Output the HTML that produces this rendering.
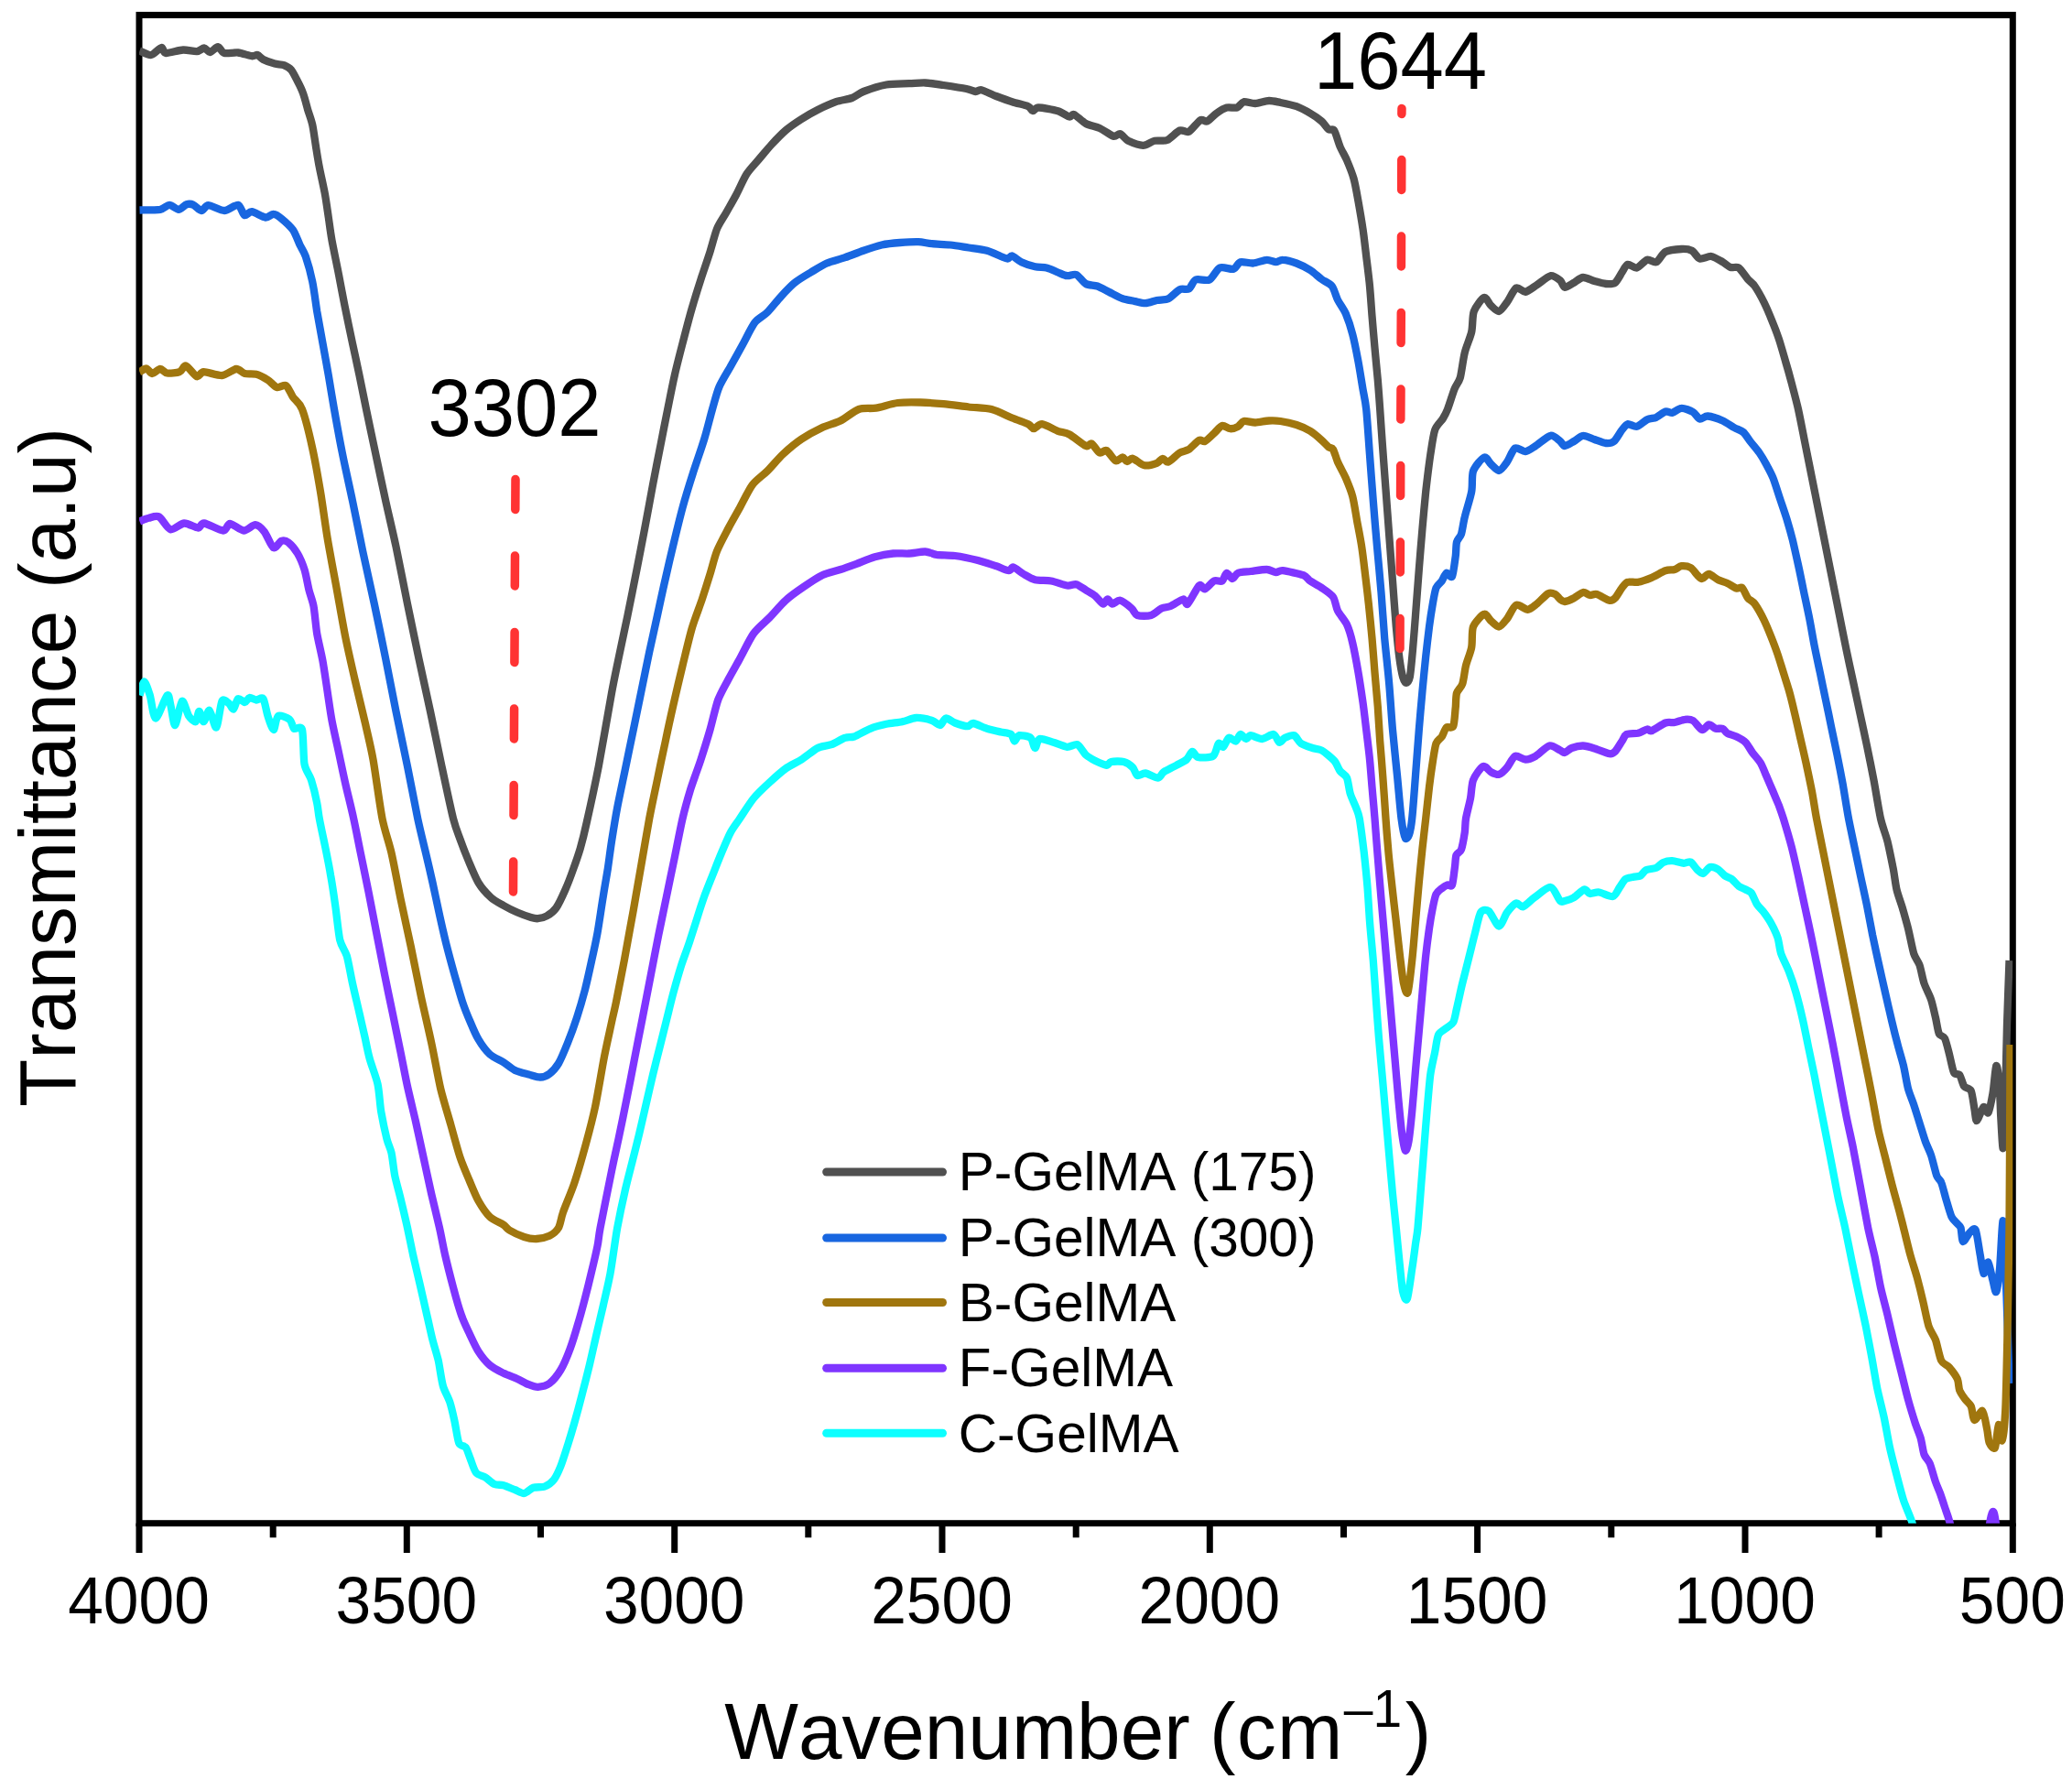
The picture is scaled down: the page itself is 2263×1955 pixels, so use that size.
<!DOCTYPE html>
<html><head><meta charset="utf-8"><title>FTIR</title>
<style>html,body{margin:0;padding:0;background:#fff}svg{display:block}text{font-family:"Liberation Sans",Arial,sans-serif;fill:#000;font-kerning:none}</style></head><body>
<svg width="2263" height="1955" viewBox="0 0 2263 1955">
<rect width="2263" height="1955" fill="#fff"/>
<defs><clipPath id="c"><rect x="152.0" y="16.4" width="2046.3" height="1647.3"/></clipPath></defs>
<rect x="152.0" y="16.4" width="2046.3" height="1647.3" fill="none" stroke="#000" stroke-width="7"/>
<line x1="152.0" y1="1663.7" x2="152.0" y2="1696.0" stroke="#000" stroke-width="7"/>
<line x1="298.2" y1="1663.7" x2="298.2" y2="1679.3" stroke="#000" stroke-width="7"/>
<line x1="444.3" y1="1663.7" x2="444.3" y2="1696.0" stroke="#000" stroke-width="7"/>
<line x1="590.5" y1="1663.7" x2="590.5" y2="1679.3" stroke="#000" stroke-width="7"/>
<line x1="736.7" y1="1663.7" x2="736.7" y2="1696.0" stroke="#000" stroke-width="7"/>
<line x1="882.8" y1="1663.7" x2="882.8" y2="1679.3" stroke="#000" stroke-width="7"/>
<line x1="1029.0" y1="1663.7" x2="1029.0" y2="1696.0" stroke="#000" stroke-width="7"/>
<line x1="1175.2" y1="1663.7" x2="1175.2" y2="1679.3" stroke="#000" stroke-width="7"/>
<line x1="1321.3" y1="1663.7" x2="1321.3" y2="1696.0" stroke="#000" stroke-width="7"/>
<line x1="1467.5" y1="1663.7" x2="1467.5" y2="1679.3" stroke="#000" stroke-width="7"/>
<line x1="1613.6" y1="1663.7" x2="1613.6" y2="1696.0" stroke="#000" stroke-width="7"/>
<line x1="1759.8" y1="1663.7" x2="1759.8" y2="1679.3" stroke="#000" stroke-width="7"/>
<line x1="1906.0" y1="1663.7" x2="1906.0" y2="1696.0" stroke="#000" stroke-width="7"/>
<line x1="2052.1" y1="1663.7" x2="2052.1" y2="1679.3" stroke="#000" stroke-width="7"/>
<line x1="2198.3" y1="1663.7" x2="2198.3" y2="1696.0" stroke="#000" stroke-width="7"/>
<text transform="translate(151.5,1773.0) scale(1,1.042)" font-size="69.5" text-anchor="middle">4000</text>
<text transform="translate(443.8,1773.0) scale(1,1.042)" font-size="69.5" text-anchor="middle">3500</text>
<text transform="translate(736.2,1773.0) scale(1,1.042)" font-size="69.5" text-anchor="middle">3000</text>
<text transform="translate(1028.5,1773.0) scale(1,1.042)" font-size="69.5" text-anchor="middle">2500</text>
<text transform="translate(1320.8,1773.0) scale(1,1.042)" font-size="69.5" text-anchor="middle">2000</text>
<text transform="translate(1613.1,1773.0) scale(1,1.042)" font-size="69.5" text-anchor="middle">1500</text>
<text transform="translate(1905.5,1773.0) scale(1,1.042)" font-size="69.5" text-anchor="middle">1000</text>
<text transform="translate(2197.8,1773.0) scale(1,1.042)" font-size="69.5" text-anchor="middle">500</text>
<g clip-path="url(#c)" fill="none" stroke-width="8.3" stroke-linejoin="round" stroke-linecap="butt">
<path d="M152.5 55.5C154.2 56.1 161.8 60.5 165.0 60.0C168.2 59.5 174.1 52.3 176.2 52.0C178.4 51.7 178.1 57.7 181.2 58.0C184.4 58.3 195.5 54.7 200.0 54.5C204.5 54.3 211.9 56.5 215.0 56.2C218.1 56.0 221.1 52.4 223.0 52.5C224.9 52.6 227.5 57.2 229.5 57.0C231.5 56.8 235.9 51.1 238.0 51.2C240.1 51.4 242.1 57.2 245.0 58.0C247.9 58.8 256.0 57.1 260.0 57.5C264.0 57.9 272.2 60.9 275.0 61.2C277.8 61.6 279.6 59.5 281.2 60.0C282.9 60.5 285.0 63.7 287.5 65.0C290.0 66.3 297.0 68.7 300.0 69.5C303.0 70.3 307.6 70.3 310.0 71.2C312.4 72.2 316.0 73.9 318.0 76.2C320.0 78.6 323.2 85.2 325.0 88.8C326.8 92.2 329.8 98.3 331.2 102.5C332.8 106.7 334.9 115.5 336.2 120.0C337.6 124.5 340.1 130.9 341.2 136.2C342.4 141.6 344.0 153.8 345.0 160.0C346.0 166.2 347.4 175.5 348.8 182.5C350.1 189.5 353.7 205.2 355.0 212.5C356.3 219.8 357.8 230.8 358.8 237.5C359.8 244.2 361.0 254.2 362.5 262.5C364.0 270.8 368.2 290.7 370.0 300.0C371.8 309.3 374.2 322.5 376.2 332.5C378.2 342.5 382.8 364.7 385.0 375.0C387.2 385.3 390.5 400.4 392.5 410.0C394.5 419.6 397.7 435.7 400.0 447.0C402.3 458.3 407.2 481.2 410.0 494.5C412.8 507.8 418.2 533.3 421.2 547.0C424.2 560.7 429.3 582.0 432.5 597.0C435.7 612.0 441.7 643.2 445.0 659.5C448.3 675.8 454.2 703.8 457.5 719.5C460.8 735.2 466.7 761.3 470.0 777.0C473.3 792.7 479.2 821.4 482.5 837.0C485.8 852.6 492.3 883.4 495.0 894.0C497.7 904.6 500.3 910.5 502.5 916.5C504.7 922.5 508.6 932.7 511.2 939.0C513.9 945.3 519.2 958.5 522.5 964.0C525.8 969.5 532.6 976.9 536.2 980.2C539.9 983.6 546.2 986.8 550.0 989.0C553.8 991.2 561.0 994.8 565.0 996.5C569.0 998.2 577.0 1001.1 580.0 1002.0C583.0 1002.9 585.2 1003.5 587.5 1003.2C589.8 1003.0 594.8 1001.8 597.5 1000.2C600.2 998.7 604.8 995.3 607.5 991.5C610.2 987.7 615.0 977.2 617.5 971.5C620.0 965.8 624.1 955.0 626.2 949.0C628.4 943.0 631.8 933.2 633.8 926.5C635.7 919.8 638.0 910.9 640.6 899.0C643.3 887.1 650.1 855.9 653.8 837.0C657.4 818.1 665.1 772.7 668.0 757.0C670.9 741.3 673.2 730.8 675.5 719.5C677.8 708.2 682.8 685.0 685.5 672.0C688.2 659.0 693.0 634.7 695.5 622.0C698.0 609.3 701.9 589.3 704.2 577.0C706.6 564.7 710.7 541.8 713.0 529.5C715.3 517.2 719.6 495.5 721.8 484.5C723.9 473.5 727.2 456.9 729.2 447.0C731.2 437.1 734.6 419.6 736.8 410.0C738.9 400.4 743.0 384.7 745.5 375.0C748.0 365.3 752.8 346.8 755.5 337.5C758.2 328.2 762.8 313.3 765.5 305.0C768.2 296.7 773.2 282.3 775.5 275.0C777.8 267.7 780.7 255.7 783.0 250.0C785.3 244.3 790.2 237.5 793.0 232.5C795.8 227.5 801.2 218.2 804.2 212.5C807.2 206.8 812.3 195.0 815.5 190.0C818.7 185.0 824.3 179.3 828.0 175.0C831.7 170.7 839.0 161.8 843.0 157.5C847.0 153.2 853.7 146.2 858.0 142.5C862.3 138.8 870.8 133.0 875.5 130.0C880.2 127.0 888.0 122.5 893.0 120.0C898.0 117.5 908.0 113.0 913.0 111.2C918.0 109.5 926.5 108.5 930.5 107.0C934.5 105.5 938.0 101.9 943.0 100.0C948.0 98.1 961.3 93.7 968.0 92.5C974.7 91.3 987.3 91.5 993.0 91.2C998.7 91.0 1005.5 90.3 1010.5 90.5C1015.5 90.7 1024.5 92.1 1030.5 93.0C1036.5 93.9 1050.8 96.1 1055.5 97.0C1060.2 97.9 1063.3 99.8 1065.5 100.0C1067.7 100.2 1068.8 97.6 1071.8 98.2C1074.8 98.9 1083.5 103.3 1088.0 105.0C1092.5 106.7 1100.8 109.8 1105.5 111.2C1110.2 112.8 1120.0 114.9 1123.0 116.2C1126.0 117.6 1126.5 121.1 1128.0 121.2C1129.5 121.4 1130.6 117.5 1134.2 117.5C1137.9 117.5 1151.0 119.9 1155.5 121.2C1160.0 122.6 1165.7 127.0 1168.0 127.5C1170.3 128.0 1170.6 124.0 1173.0 125.0C1175.4 126.0 1182.3 133.0 1186.0 135.0C1189.7 137.0 1197.0 138.2 1201.0 140.0C1205.0 141.8 1213.0 147.9 1216.0 148.8C1219.0 149.6 1221.3 145.6 1223.5 146.2C1225.7 146.9 1228.9 152.1 1232.2 153.8C1235.6 155.4 1244.7 158.8 1248.5 158.8C1252.3 158.8 1257.5 154.5 1261.0 153.8C1264.5 153.0 1271.1 154.5 1274.8 153.0C1278.4 151.5 1285.3 143.7 1288.5 142.5C1291.7 141.3 1295.5 145.2 1298.5 143.8C1301.5 142.2 1308.3 132.8 1311.0 131.2C1313.7 129.8 1316.2 133.5 1318.5 132.5C1320.8 131.5 1325.7 125.8 1328.5 123.8C1331.3 121.8 1336.8 118.3 1339.8 117.5C1342.8 116.7 1348.5 118.3 1351.0 117.5C1353.5 116.7 1355.8 111.8 1358.5 111.2C1361.2 110.7 1367.3 113.2 1371.0 113.0C1374.7 112.8 1382.3 110.1 1386.0 110.0C1389.7 109.9 1394.5 111.2 1398.5 112.0C1402.5 112.8 1411.7 114.7 1416.0 116.2C1420.3 117.8 1427.3 121.6 1431.0 123.8C1434.7 125.9 1440.8 130.2 1443.5 132.5C1446.2 134.8 1449.2 139.9 1451.0 141.2C1452.8 142.6 1455.6 140.0 1457.2 142.5C1458.9 145.0 1461.7 155.7 1463.5 160.0C1465.3 164.3 1469.0 170.3 1471.0 175.0C1473.0 179.7 1476.8 189.0 1478.5 195.0C1480.2 201.0 1482.2 212.7 1483.5 220.0C1484.8 227.3 1487.3 242.0 1488.5 250.0C1489.7 258.0 1491.2 271.7 1492.2 280.0C1493.2 288.3 1495.2 303.8 1496.0 312.5C1496.8 321.2 1497.8 336.0 1498.5 345.0C1499.2 354.0 1500.7 370.7 1501.5 380.0C1502.3 389.3 1504.0 406.1 1504.8 415.0C1505.5 423.9 1506.6 437.7 1507.2 447.0C1507.9 456.3 1508.9 472.8 1509.8 484.5C1510.6 496.2 1512.5 521.2 1513.5 534.5C1514.5 547.8 1516.2 571.2 1517.2 584.5C1518.2 597.8 1520.0 621.2 1521.0 634.5C1522.0 647.8 1523.8 673.2 1524.8 684.5C1525.8 695.8 1527.5 712.2 1528.5 719.5C1529.5 726.8 1531.2 736.0 1532.2 739.5C1533.2 743.0 1535.0 745.8 1536.0 745.8C1537.0 745.8 1538.8 744.3 1539.8 739.5C1540.7 734.7 1542.2 718.5 1543.0 709.5C1543.8 700.5 1545.1 683.7 1546.0 672.0C1546.9 660.3 1548.8 634.7 1549.8 622.0C1550.8 609.3 1552.5 588.3 1553.5 577.0C1554.5 565.7 1556.1 547.7 1557.2 537.0C1558.4 526.3 1560.9 506.0 1562.2 497.0C1563.6 488.0 1565.4 474.8 1567.2 469.5C1569.1 464.2 1574.2 460.0 1576.0 457.0C1577.8 454.0 1579.3 451.3 1581.0 447.0C1582.7 442.7 1586.7 429.6 1588.5 425.0C1590.3 420.4 1593.2 417.8 1594.8 412.5C1596.2 407.2 1598.1 391.7 1599.8 385.0C1601.4 378.3 1605.9 368.5 1607.2 362.5C1608.6 356.5 1607.9 345.0 1609.8 340.0C1611.6 335.0 1618.5 325.8 1621.0 325.0C1623.5 324.2 1626.3 331.8 1628.5 333.8C1630.7 335.8 1634.9 340.5 1637.2 340.0C1639.6 339.5 1643.5 333.4 1646.0 330.0C1648.5 326.6 1653.3 316.0 1656.0 314.5C1658.7 313.0 1663.0 319.2 1666.0 318.8C1669.0 318.3 1674.8 313.6 1678.5 311.2C1682.2 308.9 1690.1 301.9 1693.5 301.2C1696.9 300.6 1701.9 304.6 1704.0 306.2C1706.1 307.9 1707.0 313.4 1709.0 313.8C1711.0 314.1 1716.3 310.2 1719.0 308.8C1721.7 307.3 1726.0 303.2 1729.0 303.0C1732.0 302.8 1738.2 306.1 1741.5 307.0C1744.8 307.9 1751.0 309.8 1754.0 310.0C1757.0 310.2 1761.7 310.4 1764.0 308.8C1766.3 307.1 1769.7 300.2 1771.5 297.5C1773.3 294.8 1775.6 289.4 1777.8 288.8C1779.9 288.1 1784.9 293.2 1787.8 292.5C1790.6 291.8 1796.2 284.6 1799.0 283.8C1801.8 282.9 1806.3 287.4 1809.0 286.2C1811.7 285.1 1815.3 276.9 1819.0 275.0C1822.7 273.1 1832.7 272.2 1836.5 272.0C1840.3 271.8 1845.1 272.4 1847.8 273.8C1850.4 275.1 1853.7 281.7 1856.5 282.5C1859.3 283.3 1865.7 279.5 1869.0 280.0C1872.3 280.5 1878.7 284.6 1881.5 286.2C1884.3 287.9 1887.9 291.2 1890.2 292.0C1892.6 292.8 1896.5 290.8 1899.0 292.5C1901.5 294.2 1906.7 302.3 1909.0 305.0C1911.3 307.7 1914.2 309.2 1916.5 312.5C1918.8 315.8 1924.0 325.0 1926.5 330.0C1929.0 335.0 1933.1 344.7 1935.2 350.0C1937.4 355.3 1940.8 364.0 1942.8 370.0C1944.8 376.0 1948.4 388.7 1950.2 395.0C1952.1 401.3 1954.7 410.6 1956.5 417.5C1958.3 424.4 1962.0 438.1 1964.0 447.0C1966.0 455.9 1969.5 474.5 1971.5 484.5C1973.5 494.5 1977.0 512.0 1979.0 522.0C1981.0 532.0 1984.5 549.5 1986.5 559.5C1988.5 569.5 1992.0 587.0 1994.0 597.0C1996.0 607.0 1999.5 624.5 2001.5 634.5C2003.5 644.5 2007.0 662.0 2009.0 672.0C2011.0 682.0 2014.5 699.8 2016.5 709.5C2018.5 719.2 2022.0 735.2 2024.0 744.5C2026.0 753.8 2029.5 770.2 2031.5 779.5C2033.5 788.8 2037.0 804.8 2039.0 814.5C2041.0 824.2 2044.5 841.4 2046.5 852.0C2048.5 862.6 2052.0 885.1 2054.0 894.0C2056.0 902.9 2059.7 911.7 2061.5 919.0C2063.3 926.3 2066.4 942.0 2067.8 949.0C2069.1 956.0 2070.2 965.8 2071.5 971.5C2072.8 977.2 2076.1 985.8 2077.8 991.5C2079.4 997.2 2082.3 1007.3 2084.0 1014.0C2085.7 1020.7 2088.6 1036.2 2090.2 1041.5C2091.9 1046.8 2095.0 1049.7 2096.5 1054.0C2098.0 1058.3 2099.8 1069.0 2101.5 1074.0C2103.2 1079.0 2107.3 1086.5 2109.0 1091.5C2110.7 1096.5 2112.8 1106.5 2114.0 1111.5C2115.2 1116.5 2116.4 1126.0 2117.8 1129.0C2119.1 1132.0 2122.5 1131.0 2124.0 1134.0C2125.5 1137.0 2127.7 1146.5 2129.0 1151.5C2130.3 1156.5 2132.5 1168.5 2134.0 1171.5C2135.5 1174.5 2138.8 1172.0 2140.2 1174.0C2141.8 1176.0 2143.6 1184.2 2145.2 1186.5C2146.9 1188.8 2151.2 1188.2 2152.8 1191.5C2154.2 1194.8 2155.7 1207.2 2156.5 1211.5C2157.3 1215.8 2157.7 1224.3 2159.0 1224.0C2160.3 1223.7 2164.8 1210.2 2166.5 1209.0C2168.2 1207.8 2170.2 1217.2 2171.5 1215.2C2172.8 1213.2 2175.3 1200.8 2176.5 1194.0C2177.7 1187.2 2179.3 1165.7 2180.2 1164.0C2181.2 1162.3 2182.8 1174.2 2183.5 1181.5C2184.2 1188.8 2184.7 1209.3 2185.2 1219.0C2185.8 1228.7 2187.1 1257.3 2187.8 1254.0C2188.4 1250.7 2189.7 1212.0 2190.2 1194.0C2190.8 1176.0 2191.4 1138.3 2192.0 1119.0C2192.6 1099.7 2194.2 1058.3 2194.5 1049.0" stroke="#505050"/>
<path d="M152.5 229.5C155.5 229.4 170.7 229.5 175.0 228.8C179.3 228.0 182.3 223.8 185.0 223.8C187.7 223.8 192.5 228.8 195.0 228.8C197.5 228.7 201.6 223.9 203.8 223.2C205.9 222.6 209.1 222.8 211.2 223.8C213.4 224.7 217.8 229.9 220.0 230.0C222.2 230.1 224.2 224.2 227.5 224.2C230.8 224.2 240.7 230.1 245.0 230.0C249.3 229.9 257.1 223.1 260.0 223.8C262.9 224.4 265.0 234.0 267.0 235.0C269.0 236.0 271.9 230.9 275.0 231.2C278.1 231.6 286.8 237.2 290.0 237.5C293.2 237.8 296.4 233.6 298.8 233.8C301.1 233.9 304.7 236.4 307.5 238.8C310.3 241.1 317.3 247.4 320.0 251.2C322.7 255.1 325.7 263.7 327.5 267.5C329.3 271.3 331.9 274.7 333.8 280.0C335.6 285.3 339.6 299.5 341.2 307.5C342.9 315.5 344.8 331.0 346.2 340.0C347.8 349.0 350.8 365.7 352.5 375.0C354.2 384.3 357.1 400.4 358.8 410.0C360.4 419.6 363.0 435.7 365.0 447.0C367.0 458.3 371.1 481.2 373.8 494.5C376.4 507.8 382.0 532.7 385.0 547.0C388.0 561.3 393.1 587.0 396.2 602.0C399.4 617.0 405.4 643.8 408.8 659.5C412.1 675.2 418.1 703.8 421.2 719.5C424.4 735.2 429.3 761.3 432.5 777.0C435.7 792.7 441.8 821.4 445.0 837.0C448.2 852.6 453.6 881.4 456.2 894.0C458.9 906.6 462.8 922.2 465.0 931.5C467.2 940.8 470.5 955.0 472.5 964.0C474.5 973.0 478.0 990.0 480.0 999.0C482.0 1008.0 485.3 1022.8 487.5 1031.5C489.7 1040.2 493.9 1055.7 496.2 1064.0C498.6 1072.3 502.7 1087.0 505.0 1094.0C507.3 1101.0 511.4 1111.0 513.8 1116.5C516.1 1122.0 519.7 1130.6 522.5 1135.2C525.3 1139.9 531.3 1148.2 535.0 1151.5C538.7 1154.8 546.3 1157.9 550.0 1160.2C553.7 1162.6 558.8 1167.2 562.5 1169.0C566.2 1170.8 573.8 1172.5 577.5 1173.5C581.2 1174.5 587.0 1176.6 590.0 1176.5C593.0 1176.4 597.3 1174.8 600.0 1172.8C602.7 1170.8 607.3 1166.0 610.0 1161.5C612.7 1157.0 617.3 1145.7 620.0 1139.0C622.7 1132.3 627.5 1119.2 630.0 1111.5C632.5 1103.8 636.6 1089.8 638.8 1081.5C640.9 1073.2 644.4 1057.3 646.2 1049.0C648.1 1040.7 650.8 1028.3 652.5 1019.0C654.2 1009.7 657.2 988.3 658.8 979.0C660.2 969.7 662.5 957.0 663.8 949.0C665.0 941.0 666.6 927.9 668.0 919.0C669.4 910.1 672.2 892.6 674.2 882.0C676.2 871.4 680.7 850.8 683.0 839.5C685.3 828.2 689.4 808.3 691.8 797.0C694.1 785.7 698.2 765.8 700.5 754.5C702.8 743.2 706.9 723.0 709.2 712.0C711.6 701.0 715.7 682.7 718.0 672.0C720.3 661.3 724.4 642.3 726.8 632.0C729.1 621.7 733.0 604.8 735.5 594.5C738.0 584.2 742.7 564.8 745.5 554.5C748.3 544.2 753.6 527.0 756.8 517.0C759.9 507.0 766.4 488.8 769.2 479.5C772.1 470.2 775.8 454.6 778.0 447.0C780.2 439.4 782.8 428.8 785.5 422.5C788.2 416.2 794.7 406.0 798.0 400.0C801.3 394.0 807.0 383.8 810.5 377.5C814.0 371.2 820.6 357.3 824.2 352.5C827.9 347.7 834.2 345.1 838.0 341.2C841.8 337.4 849.0 328.1 853.0 323.8C857.0 319.4 863.7 312.2 868.0 308.8C872.3 305.2 880.8 300.3 885.5 297.5C890.2 294.7 898.0 289.7 903.0 287.5C908.0 285.3 917.7 283.1 923.0 281.2C928.3 279.4 937.7 275.6 943.0 273.8C948.3 271.9 957.7 268.7 963.0 267.5C968.3 266.3 977.7 265.4 983.0 265.0C988.3 264.6 998.3 264.1 1003.0 264.2C1007.7 264.4 1013.3 265.8 1018.0 266.2C1022.7 266.7 1032.7 266.9 1038.0 267.5C1043.3 268.1 1052.7 269.7 1058.0 270.5C1063.3 271.3 1073.3 272.5 1078.0 273.8C1082.7 275.0 1090.0 278.8 1093.0 280.0C1096.0 281.2 1098.8 282.6 1100.5 282.5C1102.2 282.4 1103.5 279.0 1105.5 279.5C1107.5 280.0 1112.2 284.7 1115.5 286.2C1118.8 287.8 1126.8 290.4 1130.5 291.2C1134.2 292.1 1139.7 291.7 1143.0 292.5C1146.3 293.3 1152.5 296.3 1155.5 297.5C1158.5 298.7 1162.8 300.9 1165.5 301.2C1168.2 301.6 1172.8 298.8 1175.5 300.0C1178.2 301.2 1182.9 308.3 1186.0 310.0C1189.1 311.7 1195.2 311.3 1198.5 312.5C1201.8 313.7 1207.3 316.9 1211.0 318.8C1214.7 320.6 1222.3 324.9 1226.0 326.2C1229.7 327.6 1235.2 328.1 1238.5 328.8C1241.8 329.4 1247.7 331.4 1251.0 331.2C1254.3 331.1 1260.2 328.7 1263.5 328.0C1266.8 327.3 1272.7 327.8 1276.0 326.2C1279.3 324.7 1285.5 317.7 1288.5 316.2C1291.5 314.8 1296.2 316.9 1298.5 315.5C1300.8 314.1 1303.0 306.8 1306.0 305.5C1309.0 304.2 1317.5 307.2 1321.0 305.5C1324.5 303.8 1328.8 294.1 1332.2 292.5C1335.8 290.9 1344.2 294.6 1347.2 293.8C1350.2 292.9 1351.9 287.1 1354.8 286.2C1357.6 285.4 1364.7 287.8 1368.5 287.5C1372.3 287.2 1380.2 283.9 1383.5 283.8C1386.8 283.6 1391.2 286.2 1393.5 286.2C1395.8 286.2 1398.0 283.6 1401.0 283.8C1404.0 283.9 1412.0 286.0 1416.0 287.5C1420.0 289.0 1427.3 292.7 1431.0 295.0C1434.7 297.3 1440.3 302.7 1443.5 305.0C1446.7 307.3 1452.4 309.5 1454.8 312.5C1457.1 315.5 1459.0 323.5 1461.0 327.5C1463.0 331.5 1467.6 337.5 1469.8 342.5C1471.9 347.5 1475.4 358.0 1477.2 365.0C1479.1 372.0 1482.0 387.0 1483.5 395.0C1485.0 403.0 1487.3 418.1 1488.5 425.0C1489.7 431.9 1491.2 437.4 1492.2 447.0C1493.2 456.6 1495.0 483.7 1496.0 497.0C1497.0 510.3 1498.7 533.7 1499.8 547.0C1500.8 560.3 1502.8 583.7 1504.0 597.0C1505.2 610.3 1507.4 633.7 1508.5 647.0C1509.6 660.3 1511.1 683.7 1512.2 697.0C1513.4 710.3 1516.1 733.7 1517.2 747.0C1518.4 760.3 1519.8 783.7 1521.0 797.0C1522.2 810.3 1524.7 834.1 1526.0 847.0C1527.3 859.9 1529.3 884.9 1530.5 894.0C1531.7 903.1 1533.6 912.9 1534.8 915.2C1535.9 917.6 1538.0 914.3 1539.0 911.5C1540.0 908.7 1541.3 902.6 1542.2 894.0C1543.2 885.4 1545.0 859.9 1546.0 847.0C1547.0 834.1 1548.8 809.3 1549.8 797.0C1550.8 784.7 1552.5 765.2 1553.5 754.5C1554.5 743.8 1556.2 726.3 1557.2 717.0C1558.2 707.7 1560.0 692.2 1561.0 684.5C1562.0 676.8 1563.8 665.2 1564.8 659.5C1565.8 653.8 1567.2 645.3 1568.5 642.0C1569.8 638.7 1573.2 636.7 1574.8 634.5C1576.2 632.3 1578.2 626.4 1579.8 625.8C1581.2 625.1 1584.7 632.0 1586.0 629.5C1587.3 627.0 1589.1 612.0 1589.8 607.0C1590.4 602.0 1590.2 595.2 1591.0 592.0C1591.8 588.8 1594.8 586.9 1596.0 583.2C1597.2 579.6 1598.2 570.7 1599.8 564.5C1601.2 558.3 1606.0 543.7 1607.2 537.0C1608.5 530.3 1607.2 519.5 1609.0 514.5C1610.8 509.5 1618.4 500.5 1621.0 499.5C1623.6 498.5 1626.3 505.1 1628.5 507.0C1630.7 508.9 1634.9 514.3 1637.2 514.0C1639.6 513.7 1643.7 507.8 1646.0 504.5C1648.3 501.2 1652.1 491.0 1654.8 489.5C1657.4 488.0 1663.0 493.6 1666.0 493.2C1669.0 492.9 1673.6 489.3 1677.2 487.0C1680.9 484.7 1689.9 476.4 1693.5 475.8C1697.1 475.1 1701.9 480.5 1704.0 482.0C1706.1 483.5 1707.0 487.0 1709.0 487.0C1711.0 487.0 1716.3 483.5 1719.0 482.0C1721.7 480.5 1726.0 476.0 1729.0 475.8C1732.0 475.5 1738.2 478.9 1741.5 480.0C1744.8 481.1 1751.2 483.7 1754.0 484.0C1756.8 484.3 1760.4 483.9 1762.8 482.0C1765.1 480.1 1769.5 472.0 1771.5 469.5C1773.5 467.0 1775.6 463.8 1777.8 463.2C1779.9 462.8 1784.9 466.4 1787.8 465.8C1790.6 465.1 1796.2 459.6 1799.0 458.2C1801.8 456.9 1806.3 456.9 1809.0 455.8C1811.7 454.6 1816.7 450.2 1819.0 449.5C1821.3 448.8 1824.2 451.2 1826.5 450.8C1828.8 450.2 1833.5 445.9 1836.5 445.8C1839.5 445.6 1846.3 448.4 1849.0 450.0C1851.7 451.6 1854.3 456.9 1856.5 457.5C1858.7 458.1 1861.9 454.2 1865.2 454.5C1868.6 454.8 1877.7 457.8 1881.5 459.5C1885.3 461.2 1891.0 465.3 1894.0 467.0C1897.0 468.7 1901.7 470.0 1904.0 472.0C1906.3 474.0 1909.2 479.0 1911.5 482.0C1913.8 485.0 1919.2 491.2 1921.5 494.5C1923.8 497.8 1927.0 503.3 1929.0 507.0C1931.0 510.7 1934.5 517.0 1936.5 522.0C1938.5 527.0 1942.0 538.5 1944.0 544.5C1946.0 550.5 1949.7 561.0 1951.5 567.0C1953.3 573.0 1956.1 582.8 1957.8 589.5C1959.4 596.2 1962.3 609.3 1964.0 617.0C1965.7 624.7 1968.6 639.0 1970.2 647.0C1971.9 655.0 1975.0 669.3 1976.5 677.0C1978.0 684.7 1980.0 696.8 1981.5 704.5C1983.0 712.2 1986.1 726.5 1987.8 734.5C1989.4 742.5 1992.3 756.5 1994.0 764.5C1995.7 772.5 1998.6 786.5 2000.2 794.5C2001.9 802.5 2004.8 816.2 2006.5 824.5C2008.2 832.8 2011.1 847.7 2012.8 857.0C2014.4 866.3 2017.3 885.1 2019.0 894.0C2020.7 902.9 2023.6 916.0 2025.2 924.0C2026.9 932.0 2029.7 945.3 2031.5 954.0C2033.3 962.7 2037.2 980.0 2039.0 989.0C2040.8 998.0 2043.4 1012.5 2045.2 1021.5C2047.1 1030.5 2050.9 1048.2 2052.8 1056.5C2054.6 1064.8 2057.2 1076.0 2059.0 1084.0C2060.8 1092.0 2064.7 1108.8 2066.5 1116.5C2068.3 1124.2 2071.1 1135.2 2072.8 1141.5C2074.4 1147.8 2077.5 1157.7 2079.0 1164.0C2080.5 1170.3 2082.5 1183.3 2084.0 1189.0C2085.5 1194.7 2088.6 1201.5 2090.2 1206.5C2091.9 1211.5 2094.8 1221.2 2096.5 1226.5C2098.2 1231.8 2101.1 1241.8 2102.8 1246.5C2104.4 1251.2 2107.3 1256.5 2109.0 1261.5C2110.7 1266.5 2113.8 1280.0 2115.2 1284.0C2116.8 1288.0 2118.9 1288.2 2120.2 1291.5C2121.6 1294.8 2123.8 1304.0 2125.2 1309.0C2126.8 1314.0 2129.8 1325.3 2131.5 1329.0C2133.2 1332.7 2136.4 1334.9 2137.8 1336.5C2139.1 1338.1 2140.7 1338.4 2141.5 1341.0C2142.3 1343.6 2142.7 1355.3 2144.0 1356.0C2145.3 1356.7 2149.7 1347.7 2151.5 1346.0C2153.3 1344.3 2156.2 1340.2 2157.8 1343.5C2159.2 1346.8 2161.6 1364.7 2162.8 1371.0C2163.9 1377.3 2165.3 1390.0 2166.5 1391.0C2167.7 1392.0 2170.2 1377.5 2171.5 1378.5C2172.8 1379.5 2175.3 1394.2 2176.5 1398.5C2177.7 1402.8 2179.2 1412.7 2180.2 1411.0C2181.2 1409.3 2183.0 1396.3 2184.0 1386.0C2185.0 1375.7 2186.8 1329.5 2187.8 1333.5C2188.8 1337.5 2190.6 1392.3 2191.5 1416.0C2192.4 1439.7 2194.1 1498.3 2194.5 1511.0" stroke="#1866E0"/>
<path d="M152.5 406.2C153.5 405.8 158.2 402.3 160.0 402.5C161.8 402.7 164.2 407.9 166.2 408.0C168.2 408.1 172.8 403.1 175.0 403.0C177.2 402.9 179.7 407.1 182.5 407.5C185.3 407.9 193.5 407.3 196.2 406.2C199.0 405.2 200.5 398.8 203.0 399.5C205.5 400.2 212.4 410.4 215.0 411.2C217.6 412.1 218.8 406.4 222.5 406.2C226.2 406.1 237.8 410.4 242.5 410.0C247.2 409.6 254.7 403.3 258.0 403.0C261.3 402.7 264.6 407.2 267.5 408.0C270.4 408.8 276.7 407.8 280.0 408.8C283.3 409.7 289.5 413.1 292.5 415.0C295.5 416.9 299.8 422.2 302.5 423.0C305.2 423.8 310.2 419.8 312.5 421.2C314.8 422.7 317.7 430.3 320.0 433.8C322.3 437.2 327.2 439.6 330.0 447.0C332.8 454.4 338.6 477.5 341.2 489.5C343.9 501.5 347.8 524.0 350.0 537.0C352.2 550.0 355.2 573.0 357.5 587.0C359.8 601.0 364.8 627.3 367.5 642.0C370.2 656.7 374.8 683.7 377.5 697.0C380.2 710.3 384.7 729.7 387.5 742.0C390.3 754.3 396.1 777.8 398.8 789.5C401.4 801.2 405.0 815.6 407.5 829.5C410.0 843.4 414.8 880.4 417.5 894.0C420.2 907.6 424.8 919.8 427.5 931.5C430.2 943.2 434.7 967.8 437.5 981.5C440.3 995.2 445.8 1019.7 448.8 1034.0C451.8 1048.3 457.0 1075.0 460.0 1089.0C463.0 1103.0 468.4 1125.7 471.2 1139.0C474.1 1152.3 478.4 1177.0 481.2 1189.0C484.1 1201.0 489.7 1219.0 492.5 1229.0C495.3 1239.0 499.8 1256.0 502.5 1264.0C505.2 1272.0 509.8 1282.7 512.5 1289.0C515.2 1295.3 519.5 1306.2 522.5 1311.5C525.5 1316.8 531.3 1325.5 535.0 1329.0C538.7 1332.5 547.2 1335.8 550.0 1337.8C552.8 1339.7 553.2 1341.7 556.2 1343.5C559.2 1345.3 568.5 1349.7 572.5 1351.0C576.5 1352.3 582.6 1353.2 586.2 1353.0C589.9 1352.8 596.8 1351.3 600.0 1349.8C603.2 1348.2 608.0 1344.4 610.0 1341.0C612.0 1337.6 612.7 1330.6 615.0 1324.0C617.3 1317.4 624.2 1301.5 627.5 1291.5C630.8 1281.5 637.0 1260.0 640.0 1249.0C643.0 1238.0 647.3 1221.7 650.0 1209.0C652.7 1196.3 657.6 1166.3 660.0 1154.0C662.4 1141.7 666.3 1124.5 668.0 1116.5C669.7 1108.5 671.2 1103.0 673.0 1094.0C674.8 1085.0 679.2 1062.3 681.8 1049.0C684.2 1035.7 689.2 1008.0 691.8 994.0C694.2 980.0 698.2 957.3 700.5 944.0C702.8 930.7 707.1 905.6 709.2 894.0C711.4 882.4 714.4 868.3 716.8 857.0C719.1 845.7 724.2 821.2 726.8 809.5C729.2 797.8 733.0 780.5 735.5 769.5C738.0 758.5 742.8 738.0 745.5 727.0C748.2 716.0 752.7 696.7 755.5 687.0C758.3 677.3 764.1 662.5 766.8 654.5C769.4 646.5 773.3 634.0 775.5 627.0C777.7 620.0 780.3 608.7 783.0 602.0C785.7 595.3 792.2 583.3 795.5 577.0C798.8 570.7 804.5 560.8 808.0 554.5C811.5 548.2 817.8 534.8 821.8 529.5C825.8 524.2 833.5 519.0 838.0 514.5C842.5 510.0 850.5 500.4 855.5 495.8C860.5 491.1 869.8 483.3 875.5 479.5C881.2 475.7 892.3 469.7 898.0 467.0C903.7 464.3 912.7 462.2 918.0 459.5C923.3 456.8 932.8 448.9 938.0 447.0C943.2 445.1 951.1 446.6 956.8 445.6C962.4 444.7 974.0 440.8 980.5 440.0C987.0 439.2 998.8 439.3 1005.5 439.5C1012.2 439.7 1023.5 440.6 1030.5 441.2C1037.5 441.9 1051.0 443.7 1058.0 444.5C1065.0 445.3 1076.7 445.4 1083.0 447.0C1089.3 448.6 1100.2 454.3 1105.5 456.5C1110.8 458.7 1119.8 461.7 1123.0 463.2C1126.2 464.8 1127.2 468.2 1129.2 468.2C1131.2 468.2 1134.5 462.9 1138.0 463.2C1141.5 463.6 1151.5 469.2 1155.5 470.8C1159.5 472.2 1163.9 472.3 1168.0 474.5C1172.1 476.7 1182.8 485.7 1186.0 487.0C1189.2 488.3 1190.2 483.5 1192.2 484.5C1194.2 485.5 1198.8 493.5 1201.0 494.5C1203.2 495.5 1206.2 490.8 1208.5 492.0C1210.8 493.2 1216.2 502.2 1218.5 503.2C1220.8 504.2 1224.3 499.4 1226.0 499.5C1227.7 499.6 1229.5 503.8 1231.0 504.0C1232.5 504.2 1234.8 500.2 1237.2 500.8C1239.8 501.3 1246.2 507.6 1249.8 508.2C1253.2 508.9 1260.8 506.8 1263.5 505.8C1266.2 504.8 1268.1 500.9 1269.8 500.8C1271.4 500.6 1273.5 505.3 1276.0 504.5C1278.5 503.7 1285.5 496.3 1288.5 494.5C1291.5 492.7 1295.7 492.6 1298.5 490.8C1301.3 488.9 1307.4 481.9 1309.8 480.8C1312.1 479.6 1313.8 483.0 1316.0 482.0C1318.2 481.0 1323.5 475.5 1326.0 473.2C1328.5 471.0 1332.4 465.7 1334.8 465.0C1337.1 464.3 1341.2 468.1 1343.5 468.2C1345.8 468.4 1350.2 466.9 1352.2 465.8C1354.2 464.6 1356.0 460.6 1358.5 460.0C1361.0 459.4 1367.3 461.6 1371.0 461.5C1374.7 461.4 1382.3 459.7 1386.0 459.5C1389.7 459.3 1394.5 459.4 1398.5 460.0C1402.5 460.6 1411.7 462.6 1416.0 464.0C1420.3 465.4 1427.3 468.5 1431.0 470.8C1434.7 473.0 1440.8 478.4 1443.5 480.8C1446.2 483.1 1449.3 486.9 1451.0 488.2C1452.7 489.6 1454.7 488.6 1456.0 490.8C1457.3 492.9 1459.2 500.3 1461.0 504.5C1462.8 508.7 1467.6 517.0 1469.8 522.0C1471.9 527.0 1475.6 535.7 1477.2 542.0C1478.9 548.3 1480.9 562.2 1482.2 569.5C1483.6 576.8 1486.1 589.3 1487.2 597.0C1488.4 604.7 1490.0 618.7 1491.0 627.0C1492.0 635.3 1493.8 650.2 1494.8 659.5C1495.8 668.8 1497.6 687.0 1498.5 697.0C1499.4 707.0 1500.7 724.5 1501.5 734.5C1502.3 744.5 1504.0 762.0 1504.8 772.0C1505.5 782.0 1506.5 799.5 1507.2 809.5C1508.0 819.5 1509.4 835.7 1510.2 847.0C1511.1 858.3 1512.7 882.7 1513.5 894.0C1514.3 905.3 1515.6 921.5 1516.5 931.5C1517.4 941.5 1519.4 959.0 1520.5 969.0C1521.6 979.0 1523.6 996.5 1524.8 1006.5C1525.9 1016.5 1527.9 1035.0 1529.0 1044.0C1530.1 1053.0 1531.9 1068.7 1533.0 1074.0C1534.1 1079.3 1536.3 1087.3 1537.5 1084.0C1538.7 1080.7 1541.1 1059.3 1542.2 1049.0C1543.4 1038.7 1545.0 1017.8 1546.0 1006.5C1547.0 995.2 1548.8 974.7 1549.8 964.0C1550.8 953.3 1552.5 935.8 1553.5 926.5C1554.5 917.2 1556.2 902.9 1557.2 894.0C1558.2 885.1 1560.0 867.8 1561.0 859.5C1562.0 851.2 1563.8 838.3 1564.8 832.0C1565.8 825.7 1567.2 815.7 1568.5 812.0C1569.8 808.3 1573.2 806.8 1574.8 804.5C1576.2 802.2 1578.1 796.0 1579.8 794.5C1581.4 793.0 1585.9 796.2 1587.2 793.2C1588.6 790.2 1589.2 776.8 1589.8 772.0C1590.2 767.2 1590.0 760.3 1591.0 757.0C1592.0 753.7 1595.9 751.0 1597.2 747.0C1598.6 743.0 1599.7 732.3 1601.0 727.0C1602.3 721.7 1606.2 712.7 1607.2 707.0C1608.3 701.3 1607.2 689.3 1609.0 684.5C1610.8 679.7 1618.4 671.6 1621.0 670.8C1623.6 669.9 1626.3 676.4 1628.5 678.2C1630.7 680.1 1634.9 684.8 1637.2 684.5C1639.6 684.2 1643.5 678.9 1646.0 675.8C1648.5 672.6 1653.0 662.1 1656.0 660.8C1659.0 659.4 1665.5 665.9 1668.5 665.8C1671.5 665.6 1675.5 661.8 1678.5 659.5C1681.5 657.2 1688.3 649.6 1691.0 648.2C1693.7 646.9 1696.8 648.2 1698.5 649.0C1700.2 649.8 1702.6 653.4 1704.0 654.5C1705.4 655.6 1707.0 657.2 1709.0 657.0C1711.0 656.8 1716.3 654.6 1719.0 653.2C1721.7 651.9 1726.7 647.4 1729.0 647.0C1731.3 646.6 1734.5 649.7 1736.5 650.0C1738.5 650.3 1741.2 648.2 1744.0 649.0C1746.8 649.8 1755.1 655.2 1757.8 655.8C1760.4 656.3 1762.2 655.1 1764.0 653.2C1765.8 651.4 1769.7 644.3 1771.5 642.0C1773.3 639.7 1775.4 636.6 1777.8 635.8C1780.1 634.9 1785.5 636.4 1789.0 635.8C1792.5 635.1 1800.0 632.4 1804.0 630.8C1808.0 629.1 1815.7 624.4 1819.0 623.2C1822.3 622.1 1826.7 622.7 1829.0 622.0C1831.3 621.3 1834.2 618.5 1836.5 618.2C1838.8 618.0 1844.2 618.7 1846.5 620.0C1848.8 621.3 1852.3 626.6 1854.0 628.2C1855.7 629.9 1857.3 632.2 1859.0 632.0C1860.7 631.8 1864.2 626.8 1866.5 627.0C1868.8 627.2 1873.8 631.9 1876.5 633.2C1879.2 634.6 1883.8 635.8 1886.5 637.0C1889.2 638.2 1894.3 641.8 1896.5 642.5C1898.7 643.2 1901.1 640.6 1902.8 642.0C1904.4 643.4 1907.2 650.9 1909.0 653.2C1910.8 655.6 1914.2 656.3 1916.5 659.5C1918.8 662.7 1924.2 672.3 1926.5 677.0C1928.8 681.7 1932.0 689.5 1934.0 694.5C1936.0 699.5 1939.7 709.2 1941.5 714.5C1943.3 719.8 1946.1 729.2 1947.8 734.5C1949.4 739.8 1952.3 748.5 1954.0 754.5C1955.7 760.5 1958.6 772.5 1960.2 779.5C1961.9 786.5 1964.8 799.7 1966.5 807.0C1968.2 814.3 1971.1 826.8 1972.8 834.5C1974.4 842.2 1977.5 856.6 1979.0 864.5C1980.5 872.4 1982.3 885.1 1984.0 894.0C1985.7 902.9 1989.5 921.5 1991.5 931.5C1993.5 941.5 1997.0 959.0 1999.0 969.0C2001.0 979.0 2004.5 996.5 2006.5 1006.5C2008.5 1016.5 2012.0 1034.0 2014.0 1044.0C2016.0 1054.0 2019.5 1071.5 2021.5 1081.5C2023.5 1091.5 2027.0 1109.0 2029.0 1119.0C2031.0 1129.0 2034.5 1146.5 2036.5 1156.5C2038.5 1166.5 2042.0 1183.7 2044.0 1194.0C2046.0 1204.3 2049.5 1224.7 2051.5 1234.0C2053.5 1243.3 2057.0 1256.0 2059.0 1264.0C2061.0 1272.0 2064.5 1286.3 2066.5 1294.0C2068.5 1301.7 2072.3 1315.2 2074.0 1321.5C2075.7 1327.8 2077.3 1334.4 2079.0 1341.0C2080.7 1347.6 2084.5 1363.7 2086.5 1371.0C2088.5 1378.3 2092.2 1389.3 2094.0 1396.0C2095.8 1402.7 2098.6 1414.0 2100.2 1421.0C2101.9 1428.0 2104.7 1442.8 2106.5 1448.5C2108.3 1454.2 2112.2 1458.5 2114.0 1463.5C2115.8 1468.5 2118.2 1482.0 2120.2 1486.0C2122.2 1490.0 2126.7 1490.8 2129.0 1493.5C2131.3 1496.2 2136.2 1502.7 2137.8 1506.0C2139.2 1509.3 2139.1 1515.5 2140.2 1518.5C2141.4 1521.5 2144.8 1526.2 2146.5 1528.5C2148.2 1530.8 2151.4 1533.0 2152.8 1536.0C2154.1 1539.0 2154.8 1550.3 2156.5 1551.0C2158.2 1551.7 2163.4 1539.7 2165.2 1541.0C2167.1 1542.3 2169.2 1556.3 2170.2 1561.0C2171.2 1565.7 2171.6 1573.3 2172.8 1576.0C2173.9 1578.7 2177.7 1583.7 2179.0 1581.0C2180.3 1578.3 2181.8 1557.0 2182.8 1556.0C2183.8 1555.0 2185.5 1575.5 2186.5 1573.5C2187.5 1571.5 2189.4 1558.7 2190.2 1541.0C2191.1 1523.3 2192.2 1467.7 2192.8 1441.0C2193.3 1414.3 2194.1 1381.0 2194.5 1341.0C2194.9 1301.0 2195.4 1167.7 2195.5 1141.0" stroke="#A0760E"/>
<path d="M152.5 569.5C153.8 569.0 159.7 566.4 162.5 565.8C165.3 565.1 170.6 562.8 173.8 564.5C176.9 566.2 182.6 577.3 186.2 578.2C189.9 579.2 197.2 571.7 201.2 571.5C205.2 571.3 213.3 576.5 216.2 576.5C219.2 576.5 219.3 571.1 223.0 571.5C226.7 571.9 240.0 579.4 243.8 579.5C247.5 579.6 248.2 572.0 251.2 572.0C254.2 572.0 262.6 579.3 266.2 579.5C269.9 579.7 275.8 573.1 278.8 573.2C281.8 573.4 286.1 577.4 288.8 580.8C291.4 584.1 296.2 596.9 298.8 598.2C301.2 599.6 305.3 591.5 307.5 590.8C309.7 590.0 312.7 590.7 315.0 592.5C317.3 594.3 322.7 600.6 325.0 604.5C327.3 608.4 330.8 616.7 332.5 622.0C334.2 627.3 336.2 639.2 337.5 644.5C338.8 649.8 341.3 655.7 342.5 662.0C343.7 668.3 344.9 684.0 346.2 692.0C347.6 700.0 351.0 713.7 352.5 722.0C354.0 730.3 356.2 745.8 357.5 754.5C358.8 763.2 360.8 778.0 362.5 787.0C364.2 796.0 368.0 812.7 370.0 822.0C372.0 831.3 375.3 847.4 377.5 857.0C379.7 866.6 384.1 884.1 386.2 894.0C388.4 903.9 391.6 920.8 393.8 931.5C395.9 942.2 400.2 962.3 402.5 974.0C404.8 985.7 408.9 1007.0 411.2 1019.0C413.6 1031.0 417.7 1052.3 420.0 1064.0C422.3 1075.7 426.4 1095.2 428.8 1106.5C431.1 1117.8 435.3 1138.3 437.5 1149.0C439.7 1159.7 442.8 1176.5 445.0 1186.5C447.2 1196.5 451.4 1213.7 453.8 1224.0C456.1 1234.3 460.2 1253.3 462.5 1264.0C464.8 1274.7 468.9 1293.7 471.2 1304.0C473.6 1314.3 478.0 1332.1 480.0 1341.0C482.0 1349.9 484.2 1362.3 486.2 1371.0C488.2 1379.7 492.7 1397.3 495.0 1406.0C497.3 1414.7 501.4 1429.3 503.8 1436.0C506.1 1442.7 510.0 1450.7 512.5 1456.0C515.0 1461.3 519.5 1471.3 522.5 1476.0C525.5 1480.7 531.3 1487.8 535.0 1491.0C538.7 1494.2 546.0 1497.8 550.0 1499.8C554.0 1501.8 561.3 1504.3 565.0 1506.0C568.7 1507.7 574.5 1511.1 577.5 1512.2C580.5 1513.4 584.5 1514.9 587.5 1514.8C590.5 1514.6 596.7 1513.5 600.0 1511.0C603.3 1508.5 609.5 1501.0 612.5 1496.0C615.5 1491.0 620.0 1480.2 622.5 1473.5C625.0 1466.8 629.1 1453.3 631.2 1446.0C633.4 1438.7 636.8 1426.2 638.8 1418.5C640.8 1410.8 644.4 1396.2 646.2 1388.5C648.1 1380.8 651.2 1367.3 652.5 1361.0C653.8 1354.7 653.6 1351.9 655.6 1341.0C657.7 1330.1 665.4 1291.9 668.0 1279.0C670.6 1266.1 673.3 1254.3 675.5 1244.0C677.7 1233.7 681.9 1213.2 684.2 1201.5C686.6 1189.8 690.7 1168.5 693.0 1156.5C695.3 1144.5 699.4 1123.5 701.8 1111.5C704.1 1099.5 708.2 1078.5 710.5 1066.5C712.8 1054.5 716.9 1033.2 719.2 1021.5C721.6 1009.8 725.7 990.3 728.0 979.0C730.3 967.7 734.4 947.8 736.8 936.5C739.1 925.2 743.2 903.9 745.5 894.0C747.8 884.1 751.6 870.6 754.2 862.0C756.9 853.4 762.7 838.2 765.5 829.5C768.3 820.8 773.0 805.7 775.5 797.0C778.0 788.3 781.6 771.8 784.2 764.5C786.9 757.2 792.3 748.0 795.5 742.0C798.7 736.0 804.3 726.2 808.0 719.5C811.7 712.8 818.7 698.0 823.0 692.0C827.3 686.0 835.8 679.3 840.5 674.5C845.2 669.7 853.0 660.2 858.0 655.8C863.0 651.2 872.7 644.4 878.0 640.8C883.3 637.1 892.7 630.8 898.0 628.2C903.3 625.8 913.0 623.7 918.0 622.0C923.0 620.3 930.5 617.6 935.5 615.8C940.5 613.9 950.2 609.8 955.5 608.2C960.8 606.8 970.5 605.0 975.5 604.5C980.5 604.0 988.3 604.8 993.0 604.5C997.7 604.2 1006.5 602.3 1010.5 602.5C1014.5 602.7 1018.7 605.1 1023.0 605.8C1027.3 606.4 1037.0 606.2 1043.0 607.0C1049.0 607.8 1062.0 610.5 1068.0 612.0C1074.0 613.5 1083.5 616.8 1088.0 618.2C1092.5 619.8 1099.2 623.1 1101.8 623.2C1104.2 623.4 1104.6 619.0 1106.8 619.5C1108.9 620.0 1114.8 625.2 1118.0 627.0C1121.2 628.8 1126.5 632.2 1130.5 633.2C1134.5 634.2 1143.3 633.7 1148.0 634.5C1152.7 635.3 1161.8 639.0 1165.5 639.5C1169.2 640.0 1172.8 637.6 1175.5 638.2C1178.2 638.9 1183.3 642.8 1186.0 644.5C1188.7 646.2 1193.5 648.8 1196.0 650.8C1198.5 652.8 1202.9 659.0 1204.8 659.5C1206.6 660.0 1208.4 654.5 1209.8 654.5C1211.1 654.5 1212.9 659.3 1214.8 659.5C1216.6 659.7 1220.7 655.1 1223.5 655.8C1226.3 656.4 1233.5 662.3 1236.0 664.5C1238.5 666.7 1239.4 671.0 1242.2 672.0C1245.1 673.0 1253.8 673.0 1257.2 672.0C1260.8 671.0 1265.7 665.8 1268.5 664.5C1271.3 663.2 1275.3 663.3 1278.5 662.0C1281.7 660.7 1289.8 654.8 1292.2 654.5C1294.8 654.2 1294.9 661.5 1297.2 659.5C1299.6 657.5 1307.2 641.7 1309.8 639.5C1312.2 637.3 1313.8 643.9 1316.0 643.2C1318.2 642.6 1323.5 635.7 1326.0 634.5C1328.5 633.3 1332.9 635.7 1334.8 634.5C1336.6 633.3 1338.2 626.1 1339.8 625.8C1341.2 625.4 1344.3 632.0 1346.0 632.0C1347.7 632.0 1349.6 626.8 1352.2 625.8C1354.9 624.7 1361.8 624.5 1366.0 624.0C1370.2 623.5 1379.8 621.9 1383.5 622.0C1387.2 622.1 1391.2 624.8 1393.5 625.0C1395.8 625.2 1397.0 622.8 1401.0 623.2C1405.0 623.7 1419.5 626.8 1423.5 628.2C1427.5 629.8 1428.3 632.7 1431.0 634.5C1433.7 636.3 1440.2 639.7 1443.5 642.0C1446.8 644.3 1453.7 648.7 1456.0 652.0C1458.3 655.3 1459.0 663.0 1461.0 667.0C1463.0 671.0 1468.8 677.3 1471.0 682.0C1473.2 686.7 1475.6 695.0 1477.2 702.0C1478.9 709.0 1482.0 725.8 1483.5 734.5C1485.0 743.2 1487.3 758.7 1488.5 767.0C1489.7 775.3 1491.2 788.7 1492.2 797.0C1493.2 805.3 1495.2 821.2 1496.0 829.5C1496.8 837.8 1497.8 850.9 1498.5 859.5C1499.2 868.1 1500.7 883.7 1501.5 894.0C1502.3 904.3 1503.8 924.8 1504.8 936.5C1505.7 948.2 1507.5 969.8 1508.5 981.5C1509.5 993.2 1511.2 1012.3 1512.2 1024.0C1513.2 1035.7 1515.0 1057.0 1516.0 1069.0C1517.0 1081.0 1518.8 1102.3 1519.8 1114.0C1520.8 1125.7 1522.5 1145.2 1523.5 1156.5C1524.5 1167.8 1526.2 1188.3 1527.2 1199.0C1528.2 1209.7 1530.0 1228.8 1531.0 1236.5C1532.0 1244.2 1533.8 1255.2 1534.8 1256.5C1535.8 1257.8 1537.5 1252.2 1538.5 1246.5C1539.5 1240.8 1541.2 1224.3 1542.2 1214.0C1543.2 1203.7 1545.0 1180.7 1546.0 1169.0C1547.0 1157.3 1548.8 1137.8 1549.8 1126.5C1550.8 1115.2 1552.5 1095.0 1553.5 1084.0C1554.5 1073.0 1556.2 1053.3 1557.2 1044.0C1558.2 1034.7 1560.0 1021.0 1561.0 1014.0C1562.0 1007.0 1563.8 996.5 1564.8 991.5C1565.8 986.5 1567.2 979.3 1568.5 976.5C1569.8 973.7 1573.1 971.6 1574.8 970.2C1576.4 968.9 1579.5 967.0 1581.0 966.5C1582.5 966.0 1584.9 969.2 1586.0 966.5C1587.1 963.8 1588.4 950.8 1589.0 946.5C1589.6 942.2 1589.6 936.5 1590.5 934.0C1591.4 931.5 1594.8 931.1 1596.0 927.8C1597.2 924.4 1599.1 913.5 1599.8 909.0C1600.4 904.5 1600.2 898.9 1601.0 894.0C1601.8 889.1 1604.9 877.6 1606.0 872.0C1607.1 866.4 1607.2 856.7 1609.0 852.0C1610.8 847.3 1617.2 838.2 1619.8 837.0C1622.3 835.8 1626.2 842.1 1628.5 843.2C1630.8 844.4 1634.9 846.4 1637.2 845.8C1639.6 845.1 1643.7 840.9 1646.0 838.2C1648.3 835.6 1652.1 826.9 1654.8 825.8C1657.4 824.6 1663.0 829.5 1666.0 829.5C1669.0 829.5 1673.8 827.8 1677.2 825.8C1680.8 823.8 1688.7 815.3 1692.2 814.5C1695.8 813.7 1701.8 818.5 1704.0 819.5C1706.2 820.5 1707.3 822.3 1709.0 822.0C1710.7 821.7 1713.8 818.0 1716.5 817.0C1719.2 816.0 1725.7 814.4 1729.0 814.5C1732.3 814.6 1737.7 816.3 1741.5 817.5C1745.3 818.7 1754.8 822.8 1757.8 823.2C1760.8 823.7 1762.2 822.6 1764.0 820.8C1765.8 818.9 1769.8 812.0 1771.5 809.5C1773.2 807.0 1774.2 803.2 1776.5 802.0C1778.8 800.8 1786.0 801.5 1789.0 800.8C1792.0 800.0 1797.0 796.8 1799.0 796.5C1801.0 796.2 1801.3 799.2 1804.0 798.2C1806.7 797.3 1815.7 790.7 1819.0 789.5C1822.3 788.3 1826.2 789.5 1829.0 789.0C1831.8 788.5 1837.6 786.0 1840.2 785.8C1842.9 785.5 1846.5 785.5 1849.0 787.0C1851.5 788.5 1856.7 796.4 1859.0 797.0C1861.3 797.6 1864.5 791.7 1866.5 791.5C1868.5 791.3 1872.0 795.2 1874.0 795.8C1876.0 796.3 1879.8 795.1 1881.5 795.8C1883.2 796.4 1884.5 799.6 1886.5 800.8C1888.5 801.9 1893.8 803.2 1896.5 804.5C1899.2 805.8 1904.2 808.4 1906.5 810.8C1908.8 813.1 1911.8 819.0 1914.0 822.0C1916.2 825.0 1920.8 829.9 1922.8 833.2C1924.8 836.6 1927.2 842.8 1929.0 847.0C1930.8 851.2 1934.7 860.2 1936.5 864.5C1938.3 868.8 1941.2 875.6 1942.8 879.5C1944.2 883.4 1945.9 888.1 1947.8 894.0C1949.6 899.9 1954.3 915.7 1956.5 924.0C1958.7 932.3 1962.0 947.5 1964.0 956.5C1966.0 965.5 1969.5 982.2 1971.5 991.5C1973.5 1000.8 1977.0 1016.8 1979.0 1026.5C1981.0 1036.2 1984.5 1054.0 1986.5 1064.0C1988.5 1074.0 1992.0 1091.5 1994.0 1101.5C1996.0 1111.5 1999.5 1128.7 2001.5 1139.0C2003.5 1149.3 2007.0 1168.3 2009.0 1179.0C2011.0 1189.7 2014.5 1209.0 2016.5 1219.0C2018.5 1229.0 2022.0 1244.0 2024.0 1254.0C2026.0 1264.0 2029.3 1282.4 2031.5 1294.0C2033.7 1305.6 2038.1 1330.4 2040.2 1341.0C2042.4 1351.6 2045.9 1364.8 2047.8 1373.5C2049.6 1382.2 2052.2 1397.7 2054.0 1406.0C2055.8 1414.3 2059.5 1427.7 2061.5 1436.0C2063.5 1444.3 2067.0 1460.2 2069.0 1468.5C2071.0 1476.8 2074.5 1490.5 2076.5 1498.5C2078.5 1506.5 2082.0 1521.2 2084.0 1528.5C2086.0 1535.8 2089.7 1547.8 2091.5 1553.5C2093.3 1559.2 2096.4 1566.3 2097.8 1571.0C2099.1 1575.7 2100.2 1584.8 2101.5 1588.5C2102.8 1592.2 2106.1 1594.5 2107.8 1598.5C2109.4 1602.5 2112.5 1614.2 2114.0 1618.5C2115.5 1622.8 2117.7 1627.3 2119.0 1631.0C2120.3 1634.7 2122.7 1642.0 2124.0 1646.0C2125.3 1650.0 2127.3 1655.0 2129.0 1661.0C2130.7 1667.0 2133.2 1677.0 2136.5 1691.0C2139.8 1705.0 2149.7 1764.3 2154.0 1766.0C2158.3 1767.7 2166.5 1716.8 2169.0 1703.5C2171.5 1690.2 2171.8 1673.0 2172.8 1666.0C2173.8 1659.0 2175.5 1651.0 2176.5 1651.0C2177.5 1651.0 2178.2 1650.7 2180.2 1666.0C2182.2 1681.3 2190.0 1752.7 2191.5 1766.0" stroke="#7F35FF"/>
<path d="M152.5 759.5C153.2 757.5 156.0 744.5 157.5 744.5C159.0 744.5 162.1 754.2 163.8 759.5C165.4 764.8 167.5 784.5 170.0 784.5C172.5 784.5 180.3 761.5 182.5 759.5C184.7 757.5 185.1 765.2 186.2 769.5C187.4 773.8 189.6 792.5 191.2 792.0C192.9 791.5 196.8 767.1 198.8 765.8C200.8 764.4 204.2 779.0 206.2 782.0C208.2 785.0 212.2 788.9 213.8 788.2C215.2 787.6 216.3 777.0 217.5 777.0C218.7 777.0 221.0 788.4 222.5 788.2C224.0 788.1 226.9 774.9 228.8 775.8C230.6 776.6 234.4 795.8 236.2 794.5C238.1 793.2 240.7 769.2 242.5 765.8C244.3 762.2 248.3 767.1 250.0 768.2C251.7 769.4 253.7 775.2 255.0 774.5C256.3 773.8 258.3 764.2 260.0 763.2C261.7 762.2 265.8 767.2 267.5 767.0C269.2 766.8 270.8 762.3 272.5 762.0C274.2 761.7 278.0 764.3 280.0 764.5C282.0 764.7 285.8 760.9 287.5 763.2C289.2 765.6 291.0 777.5 292.5 782.0C294.0 786.5 297.2 797.0 298.8 797.0C300.2 797.0 301.4 783.5 303.8 782.0C306.1 780.5 313.9 783.9 316.2 785.8C318.6 787.6 319.4 794.2 321.2 795.8C323.1 797.2 328.5 791.8 330.0 797.0C331.5 802.2 331.2 827.2 332.5 834.5C333.8 841.8 338.2 846.3 340.0 852.0C341.8 857.7 345.1 871.4 346.2 877.0C347.4 882.6 347.6 887.7 348.8 894.0C349.9 900.3 353.3 915.7 355.0 924.0C356.7 932.3 359.8 947.8 361.2 956.5C362.8 965.2 364.9 979.7 366.2 989.0C367.6 998.3 369.6 1019.2 371.2 1026.5C372.9 1033.8 376.9 1037.7 378.8 1044.0C380.6 1050.3 383.2 1065.7 385.0 1074.0C386.8 1082.3 390.7 1098.5 392.5 1106.5C394.3 1114.5 397.2 1127.3 398.8 1134.0C400.2 1140.7 401.9 1149.8 403.8 1156.5C405.6 1163.2 410.8 1176.3 412.5 1184.0C414.2 1191.7 414.9 1206.0 416.2 1214.0C417.6 1222.0 421.0 1238.0 422.5 1244.0C424.0 1250.0 426.3 1253.7 427.5 1259.0C428.7 1264.3 429.9 1277.3 431.2 1284.0C432.6 1290.7 435.7 1301.4 437.5 1309.0C439.3 1316.6 443.2 1332.7 445.0 1341.0C446.8 1349.3 449.4 1362.7 451.2 1371.0C453.1 1379.3 456.8 1394.8 458.8 1403.5C460.8 1412.2 464.4 1428.0 466.2 1436.0C468.1 1444.0 470.8 1456.8 472.5 1463.5C474.2 1470.2 477.2 1479.3 478.8 1486.0C480.2 1492.7 482.1 1507.5 483.8 1513.5C485.4 1519.5 489.6 1526.0 491.2 1531.0C492.9 1536.0 494.9 1545.0 496.2 1551.0C497.6 1557.0 499.6 1572.0 501.2 1576.0C502.9 1580.0 507.1 1578.7 508.8 1581.0C510.4 1583.3 512.2 1589.8 513.8 1593.5C515.2 1597.2 517.8 1605.8 520.0 1608.5C522.2 1611.2 527.3 1611.8 530.0 1613.5C532.7 1615.2 537.3 1619.8 540.0 1621.0C542.7 1622.2 547.0 1621.4 550.0 1622.2C553.0 1623.1 559.5 1626.1 562.5 1627.2C565.5 1628.4 569.8 1631.3 572.5 1631.0C575.2 1630.7 579.5 1625.8 582.5 1624.8C585.5 1623.8 592.0 1624.7 595.0 1623.5C598.0 1622.3 602.7 1619.0 605.0 1616.0C607.3 1613.0 610.5 1606.0 612.5 1601.0C614.5 1596.0 618.0 1584.8 620.0 1578.5C622.0 1572.2 625.3 1561.2 627.5 1553.5C629.7 1545.8 634.1 1529.3 636.2 1521.0C638.4 1512.7 641.8 1499.3 643.8 1491.0C645.8 1482.7 649.2 1467.2 651.2 1458.5C653.2 1449.8 656.7 1435.0 658.8 1426.0C660.8 1417.0 664.4 1402.3 666.5 1391.0C668.6 1379.7 672.0 1353.3 674.2 1341.0C676.5 1328.7 680.8 1308.6 683.0 1299.0C685.2 1289.4 688.5 1277.0 690.5 1269.0C692.5 1261.0 696.0 1247.3 698.0 1239.0C700.0 1230.7 703.5 1215.2 705.5 1206.5C707.5 1197.8 711.0 1182.3 713.0 1174.0C715.0 1165.7 718.5 1152.0 720.5 1144.0C722.5 1136.0 726.0 1122.0 728.0 1114.0C730.0 1106.0 733.3 1092.0 735.5 1084.0C737.7 1076.0 741.9 1061.3 744.2 1054.0C746.6 1046.7 750.7 1036.0 753.0 1029.0C755.3 1022.0 759.6 1008.2 761.8 1001.5C763.9 994.8 767.1 985.0 769.2 979.0C771.4 973.0 775.5 962.8 778.0 956.5C780.5 950.2 785.3 937.8 788.0 931.5C790.7 925.2 795.3 914.0 798.0 909.0C800.7 904.0 804.7 898.9 808.0 894.0C811.3 889.1 818.7 877.3 823.0 872.0C827.3 866.7 835.8 858.8 840.5 854.5C845.2 850.2 853.3 842.8 858.0 839.5C862.7 836.2 870.8 832.5 875.5 829.5C880.2 826.5 888.7 819.2 893.0 817.0C897.3 814.8 904.0 814.8 908.0 813.2C912.0 811.8 919.7 806.9 923.0 805.8C926.3 804.6 929.3 805.8 933.0 804.5C936.7 803.2 945.8 797.6 950.5 795.8C955.2 793.9 963.3 791.8 968.0 790.8C972.7 789.8 981.2 789.1 985.5 788.2C989.8 787.4 996.2 784.2 1000.5 784.0C1004.8 783.8 1014.5 785.9 1018.0 787.0C1021.5 788.1 1024.8 792.3 1026.8 792.0C1028.8 791.7 1030.8 784.8 1033.0 784.5C1035.2 784.2 1039.8 788.3 1043.0 789.5C1046.2 790.7 1054.1 793.2 1056.8 793.2C1059.4 793.3 1060.2 789.7 1063.0 790.0C1065.8 790.3 1074.0 794.5 1078.0 795.8C1082.0 797.0 1089.5 798.7 1093.0 799.5C1096.5 800.3 1102.2 800.7 1104.2 802.0C1106.2 803.3 1106.8 809.3 1108.0 809.5C1109.2 809.7 1110.7 803.8 1113.0 803.2C1115.3 802.8 1123.2 803.9 1125.5 805.8C1127.8 807.6 1129.2 816.8 1130.5 817.0C1131.8 817.2 1132.8 807.8 1135.5 807.0C1138.2 806.2 1146.5 809.6 1150.5 810.8C1154.5 811.9 1162.0 815.4 1165.5 815.8C1169.0 816.1 1174.0 812.1 1176.8 813.2C1179.5 814.4 1183.4 822.2 1186.0 824.5C1188.6 826.8 1193.0 829.2 1196.0 830.8C1199.0 832.2 1206.2 835.6 1208.5 835.8C1210.8 835.9 1211.0 832.5 1213.5 832.0C1216.0 831.5 1224.1 831.2 1227.2 832.0C1230.4 832.8 1235.2 836.2 1237.2 838.2C1239.2 840.2 1240.4 846.2 1242.2 847.0C1244.1 847.8 1248.0 844.2 1251.0 844.5C1254.0 844.8 1262.1 849.7 1264.8 849.5C1267.4 849.3 1268.3 845.1 1271.0 843.2C1273.7 841.4 1281.4 837.6 1284.8 835.8C1288.1 833.9 1293.7 831.5 1296.0 829.5C1298.3 827.5 1300.6 821.1 1302.2 820.8C1303.9 820.4 1305.5 826.3 1308.5 827.0C1311.5 827.7 1321.8 827.8 1324.8 825.8C1327.8 823.8 1329.5 813.3 1331.0 812.0C1332.5 810.7 1334.5 816.6 1336.0 815.8C1337.5 814.9 1340.4 806.6 1342.2 805.8C1344.1 804.9 1348.1 810.0 1349.8 809.5C1351.4 809.0 1353.2 802.3 1354.8 802.0C1356.2 801.7 1359.5 806.8 1361.0 807.0C1362.5 807.2 1363.7 803.2 1366.0 803.2C1368.3 803.2 1375.2 807.2 1378.5 807.0C1381.8 806.8 1388.5 801.5 1391.0 802.0C1393.5 802.5 1395.6 810.2 1397.2 810.8C1398.9 811.2 1401.3 806.8 1403.5 805.8C1405.7 804.8 1411.2 802.4 1413.5 803.2C1415.8 804.1 1418.3 810.2 1421.0 812.0C1423.7 813.8 1430.5 816.0 1433.5 817.0C1436.5 818.0 1440.3 817.7 1443.5 819.5C1446.7 821.3 1454.6 827.8 1457.2 830.8C1459.9 833.8 1461.7 839.5 1463.5 842.0C1465.3 844.5 1469.5 846.2 1471.0 849.5C1472.5 852.8 1473.4 862.7 1474.8 867.0C1476.1 871.3 1479.7 878.4 1481.0 882.0C1482.3 885.6 1483.6 887.4 1484.8 894.0C1485.9 900.6 1488.6 921.5 1489.8 931.5C1490.9 941.5 1492.7 959.0 1493.5 969.0C1494.3 979.0 1495.2 995.8 1496.0 1006.5C1496.8 1017.2 1498.8 1037.3 1499.8 1049.0C1500.7 1060.7 1502.2 1082.7 1503.0 1094.0C1503.8 1105.3 1505.1 1123.0 1506.0 1134.0C1506.9 1145.0 1508.8 1165.2 1509.8 1176.5C1510.8 1187.8 1512.5 1207.7 1513.5 1219.0C1514.5 1230.3 1516.2 1250.2 1517.2 1261.5C1518.2 1272.8 1520.0 1293.4 1521.0 1304.0C1522.0 1314.6 1523.8 1331.1 1524.8 1341.0C1525.8 1350.9 1527.5 1369.2 1528.5 1378.5C1529.5 1387.8 1531.1 1405.7 1532.2 1411.0C1533.4 1416.3 1535.5 1421.8 1536.9 1418.5C1538.2 1415.2 1541.0 1394.0 1542.2 1386.0C1543.5 1378.0 1545.2 1364.5 1546.0 1358.5C1546.8 1352.5 1547.7 1349.6 1548.5 1341.0C1549.3 1332.4 1551.3 1305.9 1552.2 1294.0C1553.2 1282.1 1554.7 1262.2 1555.5 1251.5C1556.3 1240.8 1557.6 1224.3 1558.5 1214.0C1559.4 1203.7 1561.1 1182.7 1562.2 1174.0C1563.4 1165.3 1566.1 1154.8 1567.2 1149.0C1568.4 1143.2 1569.3 1133.8 1571.0 1130.2C1572.7 1126.8 1577.6 1124.6 1579.8 1122.8C1581.9 1120.9 1585.8 1119.3 1587.2 1116.5C1588.8 1113.7 1589.8 1106.5 1591.0 1101.5C1592.2 1096.5 1594.7 1084.7 1596.0 1079.0C1597.3 1073.3 1599.7 1064.3 1601.0 1059.0C1602.3 1053.7 1604.7 1044.3 1606.0 1039.0C1607.3 1033.7 1609.5 1024.7 1611.0 1019.0C1612.5 1013.3 1615.2 999.7 1617.2 996.5C1619.2 993.3 1623.3 993.2 1626.0 995.2C1628.7 997.2 1634.6 1011.3 1637.2 1011.5C1639.9 1011.7 1643.5 999.8 1646.0 996.5C1648.5 993.2 1653.7 987.3 1656.0 986.5C1658.3 985.7 1660.8 991.1 1663.5 990.2C1666.2 989.4 1672.0 983.1 1676.0 980.2C1680.0 977.4 1689.8 968.5 1693.5 969.0C1697.2 969.5 1701.9 982.0 1704.0 984.0C1706.1 986.0 1707.0 984.5 1709.0 984.0C1711.0 983.5 1716.2 981.9 1719.0 980.2C1721.8 978.6 1727.9 972.1 1730.2 971.5C1732.6 970.9 1734.3 975.6 1736.5 976.0C1738.7 976.4 1743.2 974.1 1746.5 974.5C1749.8 974.9 1758.5 979.7 1761.5 979.0C1764.5 978.3 1767.2 971.5 1769.0 969.0C1770.8 966.5 1773.2 961.8 1775.2 960.2C1777.2 958.8 1781.8 958.2 1784.0 957.8C1786.2 957.2 1789.7 957.5 1791.5 956.5C1793.3 955.5 1795.4 951.4 1797.8 950.2C1800.1 949.1 1806.5 948.9 1809.0 947.8C1811.5 946.6 1814.2 943.0 1816.5 942.0C1818.8 941.0 1823.5 940.1 1826.5 940.2C1829.5 940.4 1836.3 942.6 1839.0 942.8C1841.7 942.9 1844.5 940.5 1846.5 941.5C1848.5 942.5 1852.2 948.6 1854.0 950.2C1855.8 951.9 1858.4 954.4 1860.2 954.0C1862.1 953.6 1865.6 947.6 1867.8 947.0C1869.9 946.4 1874.3 948.2 1876.5 949.5C1878.7 950.8 1882.0 955.1 1884.0 956.5C1886.0 957.9 1889.5 958.8 1891.5 960.2C1893.5 961.8 1897.0 966.2 1899.0 967.8C1901.0 969.2 1904.7 970.5 1906.5 971.5C1908.3 972.5 1911.1 973.1 1912.8 975.2C1914.4 977.4 1917.2 984.9 1919.0 987.8C1920.8 990.6 1924.5 993.8 1926.5 996.5C1928.5 999.2 1932.0 1004.1 1934.0 1007.8C1936.0 1011.4 1940.0 1019.5 1941.5 1024.0C1943.0 1028.5 1943.6 1036.5 1945.2 1041.5C1946.9 1046.5 1951.8 1055.8 1954.0 1061.5C1956.2 1067.2 1959.5 1077.0 1961.5 1084.0C1963.5 1091.0 1967.2 1106.0 1969.0 1114.0C1970.8 1122.0 1973.6 1136.0 1975.2 1144.0C1976.9 1152.0 1979.8 1165.7 1981.5 1174.0C1983.2 1182.3 1985.9 1197.2 1987.8 1206.5C1989.6 1215.8 1993.4 1234.7 1995.2 1244.0C1997.1 1253.3 1999.8 1267.8 2001.5 1276.5C2003.2 1285.2 2005.9 1300.4 2007.8 1309.0C2009.6 1317.6 2013.2 1331.7 2015.2 1341.0C2017.2 1350.3 2020.8 1368.8 2022.8 1378.5C2024.8 1388.2 2028.2 1404.2 2030.2 1413.5C2032.2 1422.8 2035.9 1439.5 2037.8 1448.5C2039.6 1457.5 2042.3 1472.0 2044.0 1481.0C2045.7 1490.0 2048.4 1507.0 2050.2 1516.0C2052.1 1525.0 2055.9 1539.8 2057.8 1548.5C2059.6 1557.2 2062.2 1572.7 2064.0 1581.0C2065.8 1589.3 2069.5 1603.3 2071.5 1611.0C2073.5 1618.7 2076.8 1631.8 2079.0 1638.5C2081.2 1645.2 2085.4 1654.0 2087.8 1661.0C2090.1 1668.0 2091.0 1673.7 2096.5 1691.0C2102.0 1708.3 2124.7 1777.7 2129.0 1791.0" stroke="#0DFFFF"/>
</g>
<g stroke="#FF3333" stroke-width="9.5" stroke-linecap="round"><line x1="563.0" y1="523.5" x2="562.8" y2="556.5"/><line x1="562.5" y1="607.0" x2="562.3" y2="640.0"/><line x1="562.1" y1="690.5" x2="561.9" y2="723.5"/><line x1="561.6" y1="774.0" x2="561.4" y2="807.0"/><line x1="561.2" y1="857.5" x2="561.0" y2="890.5"/><line x1="560.7" y1="941.0" x2="560.5" y2="974.0"/></g>
<g stroke="#FF3333" stroke-width="9.5" stroke-linecap="round"><line x1="1531.0" y1="118.5" x2="1530.9" y2="124.5"/><line x1="1530.8" y1="174.5" x2="1530.7" y2="207.5"/><line x1="1530.5" y1="258.0" x2="1530.4" y2="291.0"/><line x1="1530.3" y1="341.5" x2="1530.1" y2="374.5"/><line x1="1530.0" y1="425.0" x2="1529.8" y2="458.0"/><line x1="1529.7" y1="508.5" x2="1529.6" y2="541.5"/><line x1="1529.4" y1="592.0" x2="1529.3" y2="625.0"/><line x1="1529.1" y1="675.5" x2="1529.0" y2="708.5"/></g>
<text transform="translate(467.5,475.5) scale(1,1.042)" font-size="85.0" text-anchor="start">3302</text>
<text transform="translate(1435.0,97.3) scale(1,1.042)" font-size="85.0" text-anchor="start">1644</text>
<line x1="902.7" y1="1280.0" x2="1029.5" y2="1280.0" stroke="#505050" stroke-width="9" stroke-linecap="round"/>
<text transform="translate(1046.8,1300.2) scale(1,1.020)" font-size="58.6" text-anchor="start">P-GelMA (175)</text>
<line x1="902.7" y1="1352.0" x2="1029.5" y2="1352.0" stroke="#1866E0" stroke-width="9" stroke-linecap="round"/>
<text transform="translate(1046.8,1372.2) scale(1,1.020)" font-size="58.6" text-anchor="start">P-GelMA (300)</text>
<line x1="902.7" y1="1422.5" x2="1029.5" y2="1422.5" stroke="#A0760E" stroke-width="9" stroke-linecap="round"/>
<text transform="translate(1046.8,1442.7) scale(1,1.020)" font-size="58.6" text-anchor="start">B-GelMA</text>
<line x1="902.7" y1="1494.2" x2="1029.5" y2="1494.2" stroke="#7F35FF" stroke-width="9" stroke-linecap="round"/>
<text transform="translate(1046.8,1514.4) scale(1,1.020)" font-size="58.6" text-anchor="start">F-GelMA</text>
<line x1="902.7" y1="1565.3" x2="1029.5" y2="1565.3" stroke="#0DFFFF" stroke-width="9" stroke-linecap="round"/>
<text transform="translate(1046.8,1585.5) scale(1,1.020)" font-size="58.6" text-anchor="start">C-GelMA</text>
<text transform="translate(791.3,1920.5) scale(1,1.020)" font-size="85.5">Wavenumber <tspan x="529.7" font-size="85.6" letter-spacing="1.4">(cm</tspan><tspan font-size="57" dy="-33.5">–1</tspan><tspan font-size="85.6" dy="33.5" dx="3.5">)</tspan></text>
<text transform="translate(82,1209) rotate(-90) scale(1,1.020)" font-size="85.6">Transmittance (a.u)</text>
</svg></body></html>
